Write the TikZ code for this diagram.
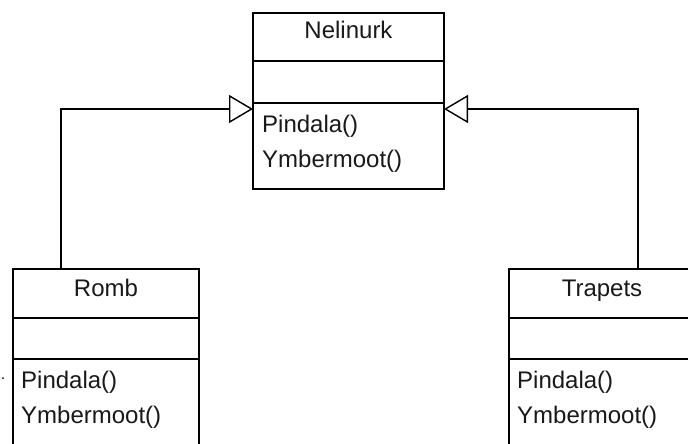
\documentclass[tikz,border=0pt]{standalone}
\usepackage{fontspec}
\setmainfont{Liberation Sans}
\usetikzlibrary{arrows.meta}
\begin{document}
\begin{tikzpicture}[x=1pt,y=-1pt,
  classbox/.style={draw, line width=1.4pt, fill=white, anchor=north west, inner sep=0pt, outer sep=0pt},
  sepline/.style={line width=1.4pt},
  classtitle/.style={font=\fontsize{24}{28}\selectfont, text=black!90, anchor=base, inner sep=0pt},
  meth/.style={font=\fontsize{24}{28}\selectfont, text=black!90, anchor=base west, inner sep=0pt},
  inh/.style={line width=1.4pt, -{Triangle[open, length=24pt, width=28pt, line width=1.4pt]}}]
\useasboundingbox (0,0) rectangle (688,444);
\clip (0,0) rectangle (688,444);
\fill[white] (0,0) rectangle (688,444);

% Nelinurk
\node[classbox, minimum width=191pt, minimum height=176pt] (nel) at (253,13) {};
\draw[sepline] (253,61) -- (444,61);
\draw[sepline] (253,103) -- (444,103);
\node[classtitle] (nelT) at (348.5,39) {Nelinurk};
\node[meth] (nelM1) at (262,132) {Pindala()};
\node[meth] (nelM2) at (262,167) {Ymbermoot()};

% Romb
\node[classbox, minimum width=186pt, minimum height=220pt] (romb) at (13,269) {};
\draw[sepline] (13,318) -- (199,318);
\draw[sepline] (13,359) -- (199,359);
\node[classtitle] (rombT) at (106,296) {Romb};
\node[meth] (rombM1) at (21,388) {Pindala()};
\node[meth] (rombM2) at (21,423) {Ymbermoot()};

% Trapets
\node[classbox, minimum width=186pt, minimum height=220pt] (trap) at (509,269) {};
\draw[sepline] (509,318) -- (695,318);
\draw[sepline] (509,359) -- (695,359);
\node[classtitle] (trapT) at (602,296) {Trapets};
\node[meth] (trapM1) at (517,388) {Pindala()};
\node[meth] (trapM2) at (517,423) {Ymbermoot()};

% connectors
\coordinate (nelL) at (253,109);
\coordinate (nelR) at (444,109);
\coordinate (rombTop) at (61,269);
\coordinate (trapTop) at (638,269);
\draw[inh] (rombTop) |- (nelL);
\draw[inh] (trapTop) |- (nelR);

\fill (3,378) circle (1pt);
\end{tikzpicture}
\end{document}
